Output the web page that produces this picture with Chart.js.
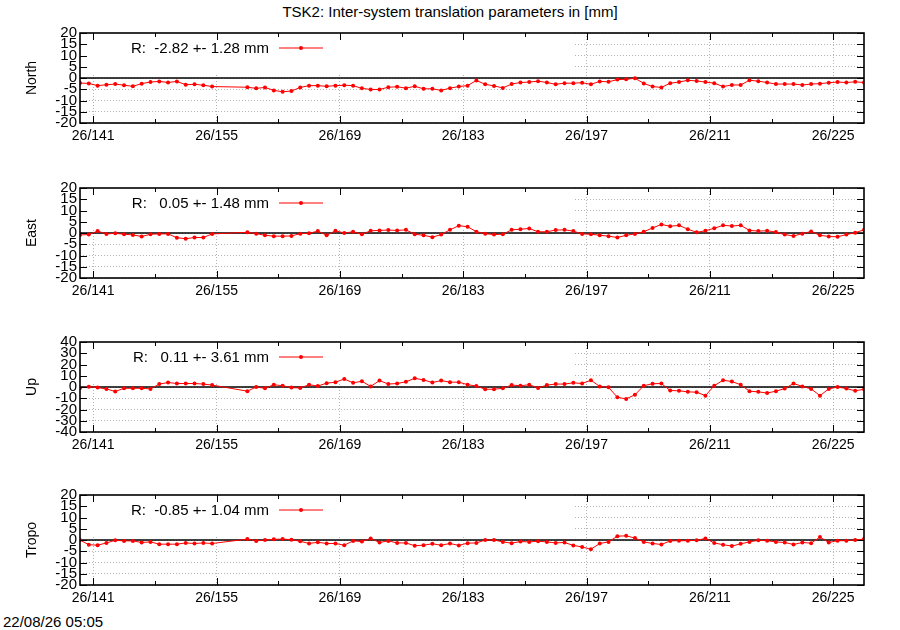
<!DOCTYPE html>
<html>
<head>
<meta charset="utf-8">
<title>TSK2 inter-system translation parameters</title>
<script src="https://cdn.jsdelivr.net/npm/chart.js@4.4.1/dist/chart.umd.min.js"></script>
<style>
    body { margin: 0; background: #fff; }
    #wrap { position: relative; width: 900px; height: 630px; background: #fff; font-family: "Liberation Sans", Arial, sans-serif; color: #000; }
    #wrap canvas { position: absolute; left: 0; }
    .title { position: absolute; top: 3px; left: 0; width: 900px; text-align: center; font-size: 15px; }
    .stamp { position: absolute; left: 3px; top: 613px; font-size: 15px; }
</style>
</head>
<body>
<div id="wrap">
    <div class="title">TSK2: Inter-system translation parameters in [mm]</div>
    <canvas id="panel0" width="900" height="124" style="top:21px"></canvas>
    <canvas id="panel1" width="900" height="124" style="top:176px"></canvas>
    <canvas id="panel2" width="900" height="124" style="top:330px"></canvas>
    <canvas id="panel3" width="900" height="124" style="top:483px"></canvas>
    <div class="stamp">22/08/26 05:05</div>
</div>
<script>
// day of year (mid-day epochs), gap 155-157 has no solutions
var epochs = [
    139.5, 140.5, 141.5, 142.5, 143.5, 144.5, 145.5, 146.5, 147.5, 148.5,
    149.5, 150.5, 151.5, 152.5, 153.5, 154.5,
    158.5, 159.5, 160.5, 161.5, 162.5, 163.5, 164.5, 165.5, 166.5, 167.5,
    168.5, 169.5, 170.5, 171.5, 172.5, 173.5, 174.5, 175.5, 176.5, 177.5,
    178.5, 179.5, 180.5, 181.5, 182.5, 183.5, 184.5, 185.5, 186.5, 187.5,
    188.5, 189.5, 190.5, 191.5, 192.5, 193.5, 194.5, 195.5, 196.5, 197.5,
    198.5, 199.5, 200.5, 201.5, 202.5, 203.5, 204.5, 205.5, 206.5, 207.5,
    208.5, 209.5, 210.5, 211.5, 212.5, 213.5, 214.5, 215.5, 216.5, 217.5,
    218.5, 219.5, 220.5, 221.5, 222.5, 223.5, 224.5, 225.5, 226.5, 227.5,
    228.5
];

var north = [
    -2.25, -2.4, -3.4, -3.0, -2.7, -3.2, -3.7, -2.5, -1.8, -1.5,
    -2.0, -1.5, -3.0, -2.8, -3.2, -3.8,
    -4.1, -4.6, -4.2, -5.5, -6.1, -5.8, -4.2, -3.4, -3.4, -3.7,
    -3.4, -3.2, -3.4, -4.6, -5.1, -5.1, -4.1, -3.9, -4.5, -3.7,
    -4.8, -4.8, -5.5, -4.5, -3.8, -3.4, -1.1, -2.8, -3.5, -4.4,
    -2.7, -2.0, -1.8, -1.4, -2.0, -2.8, -2.3, -2.3, -2.1, -2.8,
    -1.5, -1.7, -0.7, -0.6, -0.1, -2.4, -3.8, -4.2, -2.3, -1.8,
    -1.0, -1.3, -1.8, -2.3, -3.8, -3.1, -3.1, -1.0, -1.4, -2.0,
    -2.7, -2.7, -2.7, -3.1, -2.7, -2.5, -2.1, -1.8, -2.0, -1.7,
    -2.0
];

var east = [
    -0.85, -0.7, 0.85, -0.4, -0.15, -0.55, -0.85, -1.55, -0.55, -0.4,
    -0.4, -2.1, -2.55, -2.0, -2.0, -0.4,
    0.3, -0.3, -1.0, -1.4, -1.4, -1.3, -0.3, -0.15, 0.85, -1.0,
    1.0, 0.0, 0.55, -0.55, 1.0, 1.15, 1.3, 1.15, 1.4, -0.55,
    -1.0, -1.85, -0.7, 1.4, 3.25, 2.8, 0.55, -0.3, -0.7, -0.55,
    1.4, 1.7, 2.0, 0.55, 0.55, 1.3, 1.4, 0.85, -0.4, -0.55,
    -1.0, -1.4, -2.0, -1.0, -0.4, 0.55, 2.25, 3.8, 3.0, 3.4,
    1.7, 0.3, 1.0, 2.1, 3.4, 3.1, 3.4, 1.15, 0.85, 1.0,
    0.4, -0.7, -1.3, -0.3, 0.7, -1.0, -1.55, -1.7, -0.7, 0.15,
    1.4
];

var up = [
    -0.85, 0.3, -0.55, -1.7, -4.0, -1.15, -1.15, -1.15, -1.7, 2.6,
    4.0, 3.1, 3.1, 3.1, 2.6, 1.7,
    -3.7, 0.0, -1.15, 2.0, 1.15, -0.55, -0.85, 2.0, 0.85, 3.4,
    4.3, 7.1, 3.7, 5.1, 0.55, 5.7, 2.6, 3.1, 4.6, 7.7,
    6.3, 4.0, 5.7, 4.3, 4.3, 2.1, 0.85, -2.0, -2.0, -1.15,
    1.7, 1.15, 2.0, -0.85, 1.7, 2.6, 2.6, 3.7, 3.1, 6.0,
    0.55, -0.3, -9.1, -10.6, -6.9, 1.15, 2.9, 3.1, -3.1, -3.4,
    -4.3, -4.6, -7.7, 1.15, 6.0, 4.9, 2.0, -3.7, -4.3, -5.4,
    -3.7, -1.4, 3.1, 0.55, -1.7, -7.7, -1.7, 0.0, -1.4, -3.4,
    -2.0
];

var tropo = [
    0.0, -2.1, -2.3, -1.3, -0.15, -0.4, -0.4, -1.1, -0.85, -1.85,
    -1.85, -1.85, -1.3, -1.55, -1.3, -1.55,
    0.4, -0.4, 0.0, 0.3, 0.4, 0.15, -0.55, -1.55, -1.0, -1.55,
    -1.55, -2.3, -0.4, -0.7, 0.7, -1.1, -0.4, -1.3, -1.3, -2.55,
    -2.3, -1.7, -2.3, -1.55, -2.4, -1.4, -1.3, 0.0, 0.0, -0.85,
    -1.4, -0.7, -0.85, -0.55, -0.85, -1.3, -1.1, -2.4, -3.1, -4.1,
    -1.55, -0.85, 1.7, 1.85, 0.85, -0.85, -1.55, -2.0, -0.4, -0.3,
    -0.3, -0.15, 0.7, -1.3, -2.1, -2.7, -1.7, -0.85, -0.15, -0.3,
    -0.85, -1.1, -2.0, -1.1, -1.4, 1.3, -1.1, -0.3, -0.3, 0.0,
    0.4
];

var panelNames = ['North', 'East', 'Up', 'Tropo'];
var keyTexts = ['R:  -2.82 +- 1.28 mm', 'R:   0.05 +- 1.48 mm', 'R:   0.11 +- 3.61 mm', 'R:  -0.85 +- 1.04 mm'];
var yLimits = [20, 20, 40, 20];
var ySteps = [5, 5, 10, 5];
var majorDays = [141, 155, 169, 183, 197, 211, 225];
var minorDays = [148, 162, 176, 190, 204, 218];
var dayRange = [139.5, 228.5];
var yearLabel = '26';

var seriesList = [north, east, up, tropo];

Chart.defaults.font.family = '"Liberation Sans", Arial, sans-serif';
Chart.defaults.font.size = 14;
Chart.defaults.color = '#000';

function strokeLine(ctx, x1, y1, x2, y2) {
    ctx.beginPath();
    ctx.moveTo(x1, y1);
    ctx.lineTo(x2, y2);
    ctx.stroke();
}

// gnuplot-like frame: opaque key box, zero line, inward ticks, border, key entry
var gnuFrame = {
    id: 'gnuFrame',
    beforeDatasetsDraw: function(chart) {
        var a = chart.chartArea, ctx = chart.ctx;
        var ys = chart.scales.y;
        ctx.save();
        ctx.fillStyle = '#fff';
        ctx.fillRect(a.left, a.top, 493, 40);
        ctx.strokeStyle = '#000';
        ctx.lineWidth = 1.6;
        var y0 = ys.getPixelForValue(0);
        strokeLine(ctx, a.left, y0, a.right, y0);
        ctx.restore();
    },
    afterDatasetsDraw: function(chart) {
        var a = chart.chartArea, ctx = chart.ctx;
        var xs = chart.scales.x, ys = chart.scales.y;
        var ds = chart.data.datasets[0];
        ctx.save();
        ctx.strokeStyle = '#000';
        ctx.lineWidth = 1;
        majorDays.forEach(function(d) {
            var px = Math.round(xs.getPixelForValue(d)) + 0.5;
            strokeLine(ctx, px, a.bottom, px, a.bottom - 7);
            strokeLine(ctx, px, a.top, px, a.top + 7);
        });
        minorDays.forEach(function(d) {
            var px = Math.round(xs.getPixelForValue(d)) + 0.5;
            strokeLine(ctx, px, a.bottom, px, a.bottom - 4);
            strokeLine(ctx, px, a.top, px, a.top + 4);
        });
        ys.ticks.forEach(function(t) {
            var py = Math.round(ys.getPixelForValue(t.value)) + 0.5;
            strokeLine(ctx, a.left, py, a.left + 7, py);
            strokeLine(ctx, a.right, py, a.right - 7, py);
        });
        ctx.lineWidth = 1.6;
        ctx.strokeRect(a.left, a.top, a.right - a.left, a.bottom - a.top);

        // key entry: text right-justified, then line sample with point
        var ky = a.top + 16;
        ctx.fillStyle = '#000';
        ctx.font = '15px "Liberation Sans", Arial, sans-serif';
        ctx.textAlign = 'right';
        ctx.textBaseline = 'middle';
        ctx.fillText(ds.label, a.left + 189, ky);
        ctx.strokeStyle = ds.borderColor;
        ctx.lineWidth = ds.borderWidth;
        strokeLine(ctx, a.left + 199, ky - 1, a.left + 243, ky - 1);
        ctx.fillStyle = ds.backgroundColor;
        ctx.beginPath();
        ctx.arc(a.left + 221, ky - 1, ds.pointRadius, 0, Math.PI * 2);
        ctx.fill();
        ctx.restore();
    }
};

function buildPanel(i) {
    var values = seriesList[i];
    var points = epochs.map(function(d, k) {
        return { x: d, y: values[k] };
    });
    var gridStyle = { color: '#b4b4b4', lineWidth: 1, drawTicks: false };
    return new Chart(document.getElementById('panel' + i), {
        type: 'line',
        data: {
            datasets: [{
                label: keyTexts[i],
                data: points,
                borderColor: '#ff0000',
                backgroundColor: '#ff0000',
                borderWidth: 1,
                pointRadius: 2,
                pointHoverRadius: 2,
                pointBorderWidth: 0,
                tension: 0
            }]
        },
        options: {
            responsive: false,
            animation: false,
            events: [],
            layout: {
                autoPadding: false,
                padding: { top: 8, right: 36, left: 0, bottom: 0 }
            },
            plugins: {
                legend: { display: false },
                tooltip: { enabled: false }
            },
            scales: {
                x: {
                    type: 'linear',
                    min: dayRange[0],
                    max: dayRange[1],
                    afterBuildTicks: function(axis) {
                        axis.ticks = majorDays.map(function(v) { return { value: v }; });
                    },
                    afterFit: function(axis) { axis.height = 22; },
                    grid: gridStyle,
                    border: { display: false, dash: [1, 2] },
                    ticks: {
                        padding: 5,
                        autoSkip: false,
                        maxRotation: 0,
                        callback: function(value) { return yearLabel + '/' + value; }
                    }
                },
                y: {
                    min: -yLimits[i],
                    max: yLimits[i],
                    afterFit: function(axis) { axis.width = 80; },
                    grid: gridStyle,
                    border: { display: false, dash: [1, 2] },
                    ticks: { stepSize: ySteps[i], autoSkip: false, padding: 3, font: { size: 15 } },
                    title: {
                        display: true,
                        text: panelNames[i],
                        padding: { top: 24, bottom: 0 },
                        font: { size: 14 }
                    }
                }
            }
        },
        plugins: [gnuFrame]
    });
}

for (var i = 0; i < panelNames.length; i++) {
    buildPanel(i);
}
</script>
</body>
</html>
